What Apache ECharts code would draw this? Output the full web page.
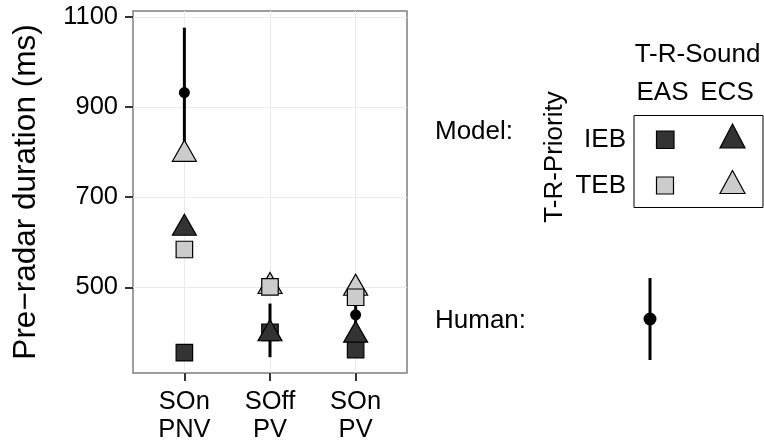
<!DOCTYPE html>
<html>
<head>
<meta charset="utf-8">
<script src="https://cdn.jsdelivr.net/npm/echarts@6/dist/echarts.min.js"></script>
<style>html,body{margin:0;padding:0;background:#fff}#c{width:764px;height:445px}</style>
</head>
<body>
<div id="c"></div>
<script>
// ---- data ----
const categories = ['SOn\nPNV', 'SOff\nPV', 'SOn\nPV'];
const yTicks = [500, 700, 900, 1100];
const iebEas = [355, 400, 362];   // dark square
const iebEcs = [631, 397, 394];   // dark triangle
const tebEcs = [795, 502, 498];   // light triangle
const tebEas = [584, 501, 478];   // light square
const humanMean = [932, 404, 439];
const humanLow = [788, 345, 412];
const humanHigh = [1076, 464, 467];
const catPos = [1, 2, 3];

const FONT = "'Liberation Sans', Arial, Helvetica, sans-serif";
const DARK = '#333333', LIGHT = '#cccccc';
const LF = '26px ' + FONT;

const pts = arr => arr.map((v, i) => [catPos[i], v]);

const chart = echarts.init(document.getElementById('c'), null, {renderer: 'canvas'});

const sq = 16.5, tri = [24, 21];

const option = {
  backgroundColor: '#fff',
  animation: false,
  grid: {
    left: 133, top: 11, width: 274, height: 362,
    show: true, borderColor: '#7f7f7f', borderWidth: 1.5, backgroundColor: 'transparent',
    containLabel: false, outerBoundsMode: 'none'
  },
  xAxis: {
    type: 'value', min: 0.4, max: 3.6,
    axisLine: {show: false},
    axisTick: {show: true, length: 8, lineStyle: {color: '#333', width: 2}, customValues: catPos},
    axisLabel: {
      customValues: catPos, margin: 15, color: '#000', fontSize: 25.5, fontFamily: FONT, lineHeight: 28,
      formatter: v => categories[Math.round(v) - 1] || ''
    },
    splitLine: {show: true, lineStyle: {color: '#ebebeb', width: 1}}
  },
  yAxis: {
    type: 'value', min: 310, max: 1113,
    name: 'Pre\u2212radar duration (ms)', nameLocation: 'middle', nameGap: 91,
    nameTextStyle: {color: '#000', fontSize: 31.5, fontFamily: FONT},
    axisLine: {show: false},
    axisTick: {show: true, length: 8, lineStyle: {color: '#333', width: 2}, customValues: yTicks},
    axisLabel: {customValues: yTicks, margin: 15, color: '#000', fontSize: 25.5, fontFamily: FONT,
                formatter: v => String(v)},
    splitLine: {show: true, lineStyle: {color: '#ebebeb', width: 1}}
  },
  series: [
    {
      type: 'custom', name: 'human-range', z: 2,
      data: catPos.map((x, i) => [x, humanLow[i], humanHigh[i]]),
      renderItem: (params, api) => {
        const x = api.value(0);
        const p1 = api.coord([x, api.value(1)]);
        const p2 = api.coord([x, api.value(2)]);
        return {type: 'line', shape: {x1: p1[0], y1: p1[1], x2: p2[0], y2: p2[1]},
                style: {stroke: '#000', lineWidth: 3}};
      }
    },
    {type: 'scatter', name: 'human', z: 3, data: pts(humanMean), symbol: 'circle', symbolSize: 11,
     itemStyle: {color: '#000', opacity: 1}},
    {type: 'scatter', name: 'IEB EAS', z: 4, data: pts(iebEas), symbol: 'rect', symbolSize: sq,
     itemStyle: {color: DARK, borderColor: '#000', borderWidth: 1.2, opacity: 1}},
    {type: 'scatter', name: 'IEB ECS', z: 5, data: pts(iebEcs), symbol: 'triangle', symbolSize: tri, symbolOffset: [0, -3.5],
     itemStyle: {color: DARK, borderColor: '#000', borderWidth: 1.2, opacity: 1}},
    {type: 'scatter', name: 'TEB ECS', z: 6, data: pts(tebEcs), symbol: 'triangle', symbolSize: tri, symbolOffset: [0, -3.5],
     itemStyle: {color: LIGHT, borderColor: '#000', borderWidth: 1.2, opacity: 1}},
    {type: 'scatter', name: 'TEB EAS', z: 7, data: pts(tebEas), symbol: 'rect', symbolSize: sq,
     itemStyle: {color: LIGHT, borderColor: '#000', borderWidth: 1.2, opacity: 1}}
  ],
  graphic: [
    {type: 'text', style: {text: 'T-R-Sound', x: 697.5, y: 55, font: LF, fill: '#000', align: 'center', verticalAlign: 'middle'}},
    {type: 'text', style: {text: 'EAS', x: 662.5, y: 93, font: LF, fill: '#000', align: 'center', verticalAlign: 'middle'}},
    {type: 'text', style: {text: 'ECS', x: 727, y: 93, font: LF, fill: '#000', align: 'center', verticalAlign: 'middle'}},
    {type: 'text', x: 555, y: 157, rotation: Math.PI / 2, style: {text: 'T-R-Priority', x: 0, y: 0, font: LF, fill: '#000', align: 'center', verticalAlign: 'middle'}},
    {type: 'text', style: {text: 'IEB', x: 626, y: 139.5, font: LF, fill: '#000', align: 'right', verticalAlign: 'middle'}},
    {type: 'text', style: {text: 'TEB', x: 626, y: 186, font: LF, fill: '#000', align: 'right', verticalAlign: 'middle'}},
    {type: 'text', style: {text: 'Model:', x: 435, y: 132, font: LF, fill: '#000', align: 'left', verticalAlign: 'middle'}},
    {type: 'text', style: {text: 'Human:', x: 435, y: 320.5, font: LF, fill: '#000', align: 'left', verticalAlign: 'middle'}},
    {type: 'rect', shape: {x: 634, y: 115.5, width: 129, height: 92}, style: {fill: 'none', stroke: '#000', lineWidth: 1}},
    {type: 'rect', shape: {x: 656.5, y: 131, width: 17.5, height: 17.5}, style: {fill: DARK, stroke: '#000', lineWidth: 1.2}},
    {type: 'rect', shape: {x: 656.5, y: 177, width: 17, height: 17}, style: {fill: LIGHT, stroke: '#000', lineWidth: 1.2}},
    {type: 'polygon', shape: {points: [[732.5, 124], [745, 148], [720, 148]]}, style: {fill: DARK, stroke: '#000', lineWidth: 1.2}},
    {type: 'polygon', shape: {points: [[732.5, 170.5], [745, 193.5], [720, 193.5]]}, style: {fill: LIGHT, stroke: '#000', lineWidth: 1.2}},
    {type: 'line', shape: {x1: 650, y1: 278, x2: 650, y2: 360}, style: {stroke: '#000', lineWidth: 3}},
    {type: 'circle', shape: {cx: 650, cy: 319, r: 6.5}, style: {fill: '#000'}}
  ]
};
chart.setOption(option);
</script>
</body>
</html>
